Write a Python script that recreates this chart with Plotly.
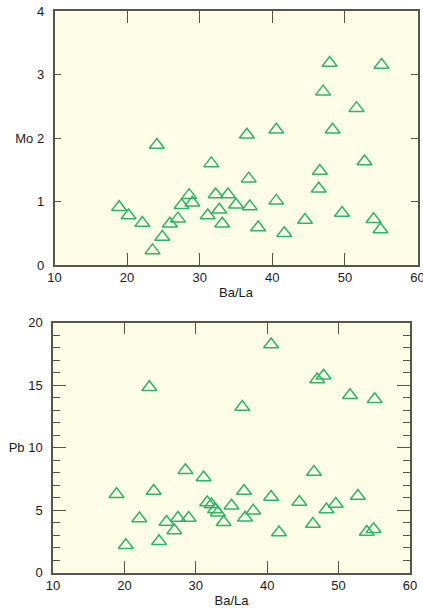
import plotly.graph_objects as go

# Ba/La ratio (shared x for both panels)
ba_la = [18.9, 20.2, 22.1, 23.5, 24.1, 24.85, 25.9, 27.0, 27.5, 28.55, 29.0,
         31.1, 31.6, 32.2, 32.7, 33.1, 33.9, 35.0, 36.5, 36.75, 36.9, 38.05,
         40.55, 40.55, 41.65, 44.5, 46.4, 46.55, 47.0, 47.9, 48.3, 49.6,
         51.6, 52.7, 53.95, 54.9, 55.05]

mo = [0.91, 0.78, 0.66, 0.23, 1.89, 0.44, 0.65, 0.73, 0.94, 1.10, 0.98,
      0.78, 1.60, 1.11, 0.87, 0.65, 1.11, 0.95, 2.05, 1.36, 0.92, 0.59,
      2.13, 1.01, 0.50, 0.71, 1.20, 1.48, 2.73, 3.18, 2.13, 0.82,
      2.47, 1.63, 0.72, 0.56, 3.15]

pb = [6.28, 2.20, 4.33, 14.84, 6.54, 2.52, 4.06, 3.37, 4.38, 8.20, 4.38,
      7.61, 5.61, 5.45, 5.05, 4.80, 4.04, 5.35, 13.26, 6.54, 4.40, 4.95,
      18.25, 6.06, 3.21, 5.66, 3.90, 8.06, 15.45, 15.75, 5.05, 5.50,
      14.20, 6.14, 3.26, 3.48, 13.88]

x_ticks = [10, 20, 30, 40, 50, 60]
x_ticktext = ["10", "20", "30", "40", "50", "60"]
mo_ticks = [0, 1, 2, 3, 4]
mo_ticktext = ["0", "1", "Mo 2", "3", "4"]
pb_ticks = [0, 5, 10, 15, 20]
pb_ticktext = ["0", "5", "Pb 10", "15", "20"]
x_title = "Ba/La"

GREEN = "#2fb466"
BG = "#fefde6"
AX = "#55554c"
FONT = dict(family="Liberation Sans, Arial, sans-serif", size=13, color="#1a1a1a")

W, H = 423, 613

fig = go.Figure()
marker = dict(symbol="triangle-up-open", size=13, color=GREEN, line=dict(width=1.5, color=GREEN))
fig.add_trace(go.Scatter(x=ba_la, y=mo, mode="markers", marker=marker, xaxis="x", yaxis="y",
                         showlegend=False, cliponaxis=False))
fig.add_trace(go.Scatter(x=ba_la, y=pb, mode="markers", marker=marker, xaxis="x2", yaxis="y2",
                         showlegend=False, cliponaxis=False))

common = dict(showgrid=False, zeroline=False, showline=True, linecolor=AX, linewidth=1.5,
              mirror="allticks", ticks="inside", tickcolor=AX, tickwidth=1.3,
              tickfont=FONT, fixedrange=True, automargin=False, ticklabeloverflow="allow")

fig.update_layout(
    width=W, height=H,
    margin=dict(l=0, r=0, t=0, b=0, autoexpand=False),
    paper_bgcolor="white",
    plot_bgcolor=BG,
    font=FONT,
    xaxis=dict(domain=[54.5 / W, 417.5 / W], anchor="y", range=[10, 60],
               tickvals=x_ticks, ticktext=x_ticktext, ticklen=12,
               title=dict(text=x_title, font=FONT, standoff=4), **common),
    yaxis=dict(domain=[1 - 265 / H, 1 - 11 / H], anchor="x", range=[0, 4],
               tickvals=mo_ticks, ticktext=mo_ticktext, ticklen=7, ticklabelstandoff=6, **common),
    xaxis2=dict(domain=[53 / W, 410 / W], anchor="y2", range=[10, 60],
                tickvals=x_ticks, ticktext=x_ticktext, ticklen=12,
                title=dict(text=x_title, font=FONT, standoff=4), **common),
    yaxis2=dict(domain=[1 - 572.7 / H, 1 - 322.7 / H], anchor="x2", range=[0, 20],
                tickvals=pb_ticks, ticktext=pb_ticktext, ticklen=13, ticklabelstandoff=6,
                minor=dict(dtick=1, ticklen=7, ticks="inside", tickcolor=AX, tickwidth=1.3),
                **common),
)

fig.write_html("out.html")
